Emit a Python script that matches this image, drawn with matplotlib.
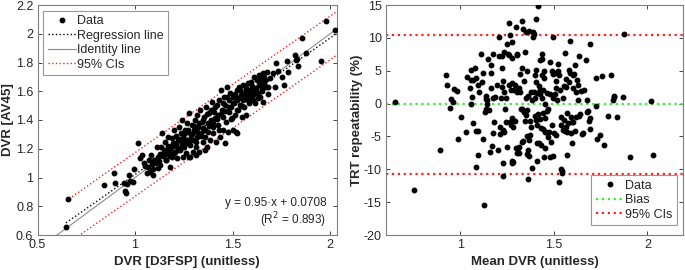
import matplotlib
matplotlib.use("Agg")
import matplotlib.pyplot as plt
from matplotlib.ticker import FuncFormatter, FixedLocator
import numpy as np

plt.rcParams['font.family'] = ['Liberation Sans', 'DejaVu Sans']

# ---------------- Left panel data: DVR D3FSP vs DVR AV45 ----------------
dvr_d3fsp = [0.646, 0.658, 0.841, 0.894, 0.897, 0.944, 0.949, 0.953, 0.957, 0.975, 0.970, 0.991, 0.996,
             1.015, 1.026, 1.038, 1.048, 1.060, 1.068, 1.077, 1.080, 1.085, 1.094, 1.099, 1.111, 1.116,
             1.124, 1.128, 1.133, 1.140, 1.145, 1.149, 1.154, 1.159, 1.162, 1.167, 1.171, 1.174, 1.179,
             1.183, 1.188, 1.191, 1.197, 1.200, 1.205, 1.209, 1.214, 1.217, 1.222, 1.226, 1.231, 1.234,
             1.239, 1.243, 1.245, 1.248, 1.253, 1.256, 1.260, 1.265, 1.268, 1.273, 1.277, 1.279, 1.282,
             1.286, 1.291, 1.295, 1.299, 1.303, 1.308, 1.312, 1.316, 1.320, 1.325, 1.329, 1.333, 1.337,
             1.342, 1.346, 1.350, 1.354, 1.359, 1.363, 1.368, 1.372, 1.376, 1.380, 1.385, 1.389, 1.393,
             1.397, 1.402, 1.406, 1.410, 1.415, 1.419, 1.423, 1.427, 1.432, 1.436, 1.440, 1.444, 1.449,
             1.453, 1.457, 1.462, 1.466, 1.470, 1.474, 1.479, 1.483, 1.487, 1.491, 1.496, 1.500, 1.504,
             1.508, 1.513, 1.517, 1.521, 1.525, 1.530, 1.534, 1.538, 1.542, 1.547, 1.551, 1.555, 1.560,
             1.564, 1.568, 1.573, 1.577, 1.581, 1.585, 1.590, 1.594, 1.598, 1.603, 1.607, 1.611, 1.615,
             1.620, 1.624, 1.629, 1.633, 1.637, 1.641, 1.645, 1.650, 1.655, 1.658, 1.662, 1.667, 1.675,
             1.680, 1.692, 1.706, 1.718, 1.723, 1.735, 1.752, 1.761, 1.781, 1.786, 1.821, 1.826, 1.832,
             1.834, 1.855, 1.877, 1.953, 1.979, 2.026,
             1.050, 1.070, 1.090, 1.100, 1.120, 1.130, 1.150, 1.160, 1.170, 1.180, 1.190, 1.200, 1.210,
             1.220, 1.230, 1.240, 1.250, 1.260, 1.270, 1.280, 1.290, 1.300, 1.310, 1.320, 1.330, 1.340,
             1.350, 1.360, 1.370, 1.380, 1.390, 1.400, 1.410, 1.420, 1.430, 1.440, 1.450, 1.460, 1.470,
             1.480, 1.490, 1.500, 1.510, 1.520, 1.530, 1.540, 1.550, 1.560, 1.570, 1.580, 1.590, 1.600,
             1.610, 1.620, 1.630, 1.640, 1.650, 1.660, 1.670, 1.680, 1.360, 1.310, 1.280, 1.460, 1.520]
dvr_av45 = [0.653, 0.848, 0.948, 1.029, 0.959, 0.964, 0.908, 0.894, 0.954, 0.978, 1.017, 0.966, 1.059,
            1.238, 1.133, 1.157, 1.100, 1.030, 1.076, 1.041, 1.157, 1.094, 1.017, 1.122, 1.215, 1.064,
            1.117, 1.161, 1.215, 1.312, 1.150, 1.191, 1.249, 1.122, 1.163, 1.219, 1.284, 1.180, 1.075,
            1.203, 1.272, 1.145, 1.238, 1.330, 1.180, 1.289, 1.215, 1.133, 1.261, 1.353, 1.191, 1.307,
            1.238, 1.400, 1.145, 1.272, 1.215, 1.330, 1.168, 1.377, 1.261, 1.318, 1.446, 1.145, 1.226,
            1.296, 1.365, 1.180, 1.261, 1.330, 1.400, 1.215, 1.435, 1.284, 1.353, 1.180, 1.469, 1.307,
            1.388, 1.249, 1.342, 1.423, 1.284, 1.492, 1.215, 1.377, 1.318, 1.446, 1.261, 1.400, 1.527,
            1.353, 1.307, 1.458, 1.411, 1.249, 1.504, 1.365, 1.435, 1.539, 1.284, 1.609, 1.469, 1.330,
            1.423, 1.562, 1.504, 1.388, 1.632, 1.318, 1.539, 1.458, 1.585, 1.493, 1.411, 1.562, 1.330,
            1.516, 1.435, 1.318, 1.609, 1.539, 1.469, 1.632, 1.504, 1.574, 1.423, 1.539, 1.644, 1.493,
            1.597, 1.435, 1.562, 1.655, 1.609, 1.516, 1.585, 1.667, 1.562, 1.620, 1.539, 1.701, 1.516,
            1.609, 1.678, 1.585, 1.713, 1.644, 1.562, 1.690, 1.620, 1.527, 1.725, 1.655, 1.678, 1.736,
            1.632, 1.690, 1.725, 1.632, 1.794, 1.742, 1.701, 1.644, 1.810, 1.736, 1.852, 1.817, 1.822,
            1.778, 1.968, 1.868, 1.810, 2.089, 2.026,
            1.080, 1.120, 1.060, 1.100, 1.140, 1.090, 1.170, 1.120, 1.200, 1.150, 1.220, 1.170, 1.240,
            1.190, 1.270, 1.210, 1.300, 1.240, 1.330, 1.260, 1.300, 1.360, 1.250, 1.320, 1.380, 1.290,
            1.400, 1.330, 1.440, 1.360, 1.470, 1.380, 1.490, 1.410, 1.330, 1.440, 1.520, 1.460, 1.560,
            1.490, 1.410, 1.520, 1.580, 1.470, 1.550, 1.610, 1.500, 1.580, 1.620, 1.540, 1.600, 1.640,
            1.580, 1.620, 1.550, 1.660, 1.600, 1.700, 1.630, 1.580, 1.190, 1.160, 1.140, 1.240, 1.310]

reg_slope = 0.95
reg_intercept = 0.0708
ci_halfwidth = 0.152
r_squared = 0.893

# ---------------- Right panel data: Bland-Altman TRT ----------------
mean_dvr = [0.652, 0.754, 0.893, 0.923, 0.930, 0.966, 0.982, 0.952, 0.964, 0.948, 0.986, 1.007, 1.030,
            1.036, 1.057, 1.059, 1.068, 1.080, 1.084, 1.055, 1.064, 1.057, 1.070, 1.086, 1.093, 1.082,
            1.093, 1.096, 1.098, 1.113, 1.114, 1.121, 1.121, 1.129, 1.130, 1.138, 1.138, 1.145, 1.138,
            1.143, 1.150, 1.155, 1.157, 1.163, 1.163, 1.164, 1.170, 1.173, 1.177, 1.177, 1.180, 1.188,
            1.196, 1.204, 1.209, 1.209, 1.211, 1.214, 1.216, 1.221, 1.221, 1.225, 1.227, 1.227, 1.229,
            1.230, 1.234, 1.232, 1.234, 1.241, 1.246, 1.246, 1.252, 1.252, 1.254, 1.259, 1.263, 1.263,
            1.264, 1.268, 1.271, 1.273, 1.275, 1.277, 1.279, 1.279, 1.277, 1.279, 1.280, 1.282, 1.288,
            1.291, 1.291, 1.296, 1.296, 1.302, 1.304, 1.305, 1.305, 1.309, 1.312, 1.312, 1.318, 1.314,
            1.321, 1.323, 1.329, 1.330, 1.332, 1.332, 1.336, 1.337, 1.341, 1.343, 1.346, 1.348, 1.352,
            1.354, 1.354, 1.355, 1.355, 1.357, 1.357, 1.361, 1.363, 1.366, 1.364, 1.368, 1.368, 1.371,
            1.375, 1.377, 1.380, 1.382, 1.386, 1.389, 1.389, 1.393, 1.395, 1.398, 1.402, 1.402, 1.404,
            1.405, 1.407, 1.407, 1.409, 1.411, 1.413, 1.413, 1.416, 1.418, 1.420, 1.421, 1.425, 1.425,
            1.427, 1.429, 1.430, 1.432, 1.436, 1.436, 1.436, 1.439, 1.441, 1.441, 1.443, 1.446, 1.448,
            1.450, 1.452, 1.454, 1.455, 1.455, 1.459, 1.463, 1.466, 1.468, 1.471, 1.475, 1.479, 1.480,
            1.482, 1.486, 1.488, 1.491, 1.495, 1.496, 1.496, 1.498, 1.502, 1.504, 1.507, 1.511, 1.511,
            1.514, 1.518, 1.521, 1.523, 1.527, 1.530, 1.534, 1.538, 1.538, 1.541, 1.543, 1.546, 1.550,
            1.550, 1.554, 1.555, 1.559, 1.561, 1.564, 1.564, 1.566, 1.568, 1.570, 1.573, 1.577, 1.580,
            1.582, 1.586, 1.588, 1.591, 1.593, 1.596, 1.598, 1.600, 1.602, 1.605, 1.609, 1.613, 1.614,
            1.616, 1.621, 1.625, 1.627, 1.630, 1.632, 1.636, 1.641, 1.646, 1.652, 1.657, 1.664, 1.671,
            1.679, 1.680, 1.682, 1.689, 1.693, 1.695, 1.696, 1.723, 1.727, 1.729, 1.746, 1.755, 1.766,
            1.791, 1.804, 1.816, 1.821, 1.823, 1.836, 1.870, 1.877, 1.907, 2.021, 2.030]
trt_pct = [0.2, -13.1, -7.0, 4.4, 2.9, 2.2, 1.9, 0.7, 0.3, -0.6, -5.4, -2.1, -4.4,
           4.1, 5.1, 3.6, 3.6, 5.4, 3.9, 2.3, 1.0, -0.1, -3.0, -4.1, -4.2, -9.7,
           -7.8, 2.8, 1.8, 7.5, 3.3, 4.7, -5.4, -15.5, -1.3, 0.7, 1.2, 0.5, -0.8,
           -0.1, 6.8, -1.0, -7.3, 5.8, 2.4, 4.7, -6.4, -4.5, 7.6, 0.8, -2.8, 1.0,
           2.8, -7.1, 7.3, 10.1, -4.7, -3.5, 0.8, 7.3, 5.4, 2.5, 3.4, -11.0, -9.0,
           -4.0, -4.3, 1.7, 7.8, -0.8, 0.9, -2.8, 9.0, -6.6, 7.5, 7.4, 12.3, 2.9,
           -2.8, 10.5, -3.3, 2.1, 6.9, -8.7, 9.3, 3.1, -2.2, -9.0, -3.6, -8.9, 2.1,
           -2.7, 2.8, -6.8, 11.6, 7.4, -7.5, 7.5, 1.8, -6.8, -6.6, -7.5, 4.5, 2.4,
           1.8, -0.9, 12.6, -5.9, 5.4, -0.9, 11.3, -5.7, -1.3, 3.5, 7.8, -2.7, 10.9,
           0.9, -1.8, -1.0, -7.7, -4.9, 4.9, -11.5, 1.2, -8.0, -7.0, 11.1, -5.6, -4.8,
           -2.7, 1.7, -3.6, 0.5, -9.8, 10.1, 10.9, 10.6, 1.7, -1.9, 4.4, 0.9, 3.3,
           5.1, -2.5, 12.8, -6.0, -8.8, 1.6, -3.2, 14.8, -1.6, -6.0, 2.6, 2.0, -2.3,
           1.5, 6.7, -3.7, -6.3, 0.9, 4.4, 6.8, 7.5, -3.9, 2.0, -1.5, 4.9, 3.9,
           -8.1, -6.7, -2.2, -0.1, -4.3, -4.3, -1.2, 1.6, -5.1, -0.9, -4.3, -8.1, 6.3,
           1.4, -5.8, -3.2, 5.0, 0.8, 10.2, 4.5, -8.0, -4.5, 4.7, 1.4, 3.4, -4.8,
           2.4, 0.6, 4.9, 6.0, -11.9, 4.3, 2.0, -3.3, -10.0, -2.0, -10.3, -10.5, 0.9,
           -4.0, -2.5, 2.6, 7.7, -4.1, 2.5, -3.6, 3.8, -1.5, -4.3, -7.8, -3.0, 5.1,
           3.3, 9.5, 4.7, -2.0, -4.5, -6.0, -2.8, 4.4, 2.4, -2.8, 4.5, -4.1, 5.9,
           1.7, -2.1, 3.6, 2.9, 0.5, 7.2, -1.9, -1.6, 1.9, -4.6, -4.5, 2.1, 6.6,
           0.6, -1.3, -1.1, -2.6, -2.2, -3.8, 9.1, 3.9, -0.3, -5.4, -4.8, 4.2, -6.3,
           -1.9, 4.3, 0.6, 1.2, 1.0, -2.1, 1.0, 10.6, -8.2, 0.4, -7.8]

bias = -0.1
loa_upper = 10.45
loa_lower = -10.65

# ---------------- Styling ----------------
TXT = '#262626'
EDGE = '#7f7f7f'
W, H = 685, 270
fig = plt.figure(figsize=(W / 100, H / 100), dpi=100)

def fmt(v, pos):
    return ('%g' % round(v, 3))

def style(ax):
    for s in ax.spines.values():
        s.set_color(EDGE)
        s.set_linewidth(0.8)
    ax.tick_params(direction='in', length=3, width=0.6, color=TXT, labelcolor=TXT,
                   labelsize=9, top=True, right=True, pad=3)
    ax.xaxis.set_major_formatter(FuncFormatter(fmt))
    ax.yaxis.set_major_formatter(FuncFormatter(fmt))

leg_kw = dict(fontsize=9, frameon=True, fancybox=False, edgecolor=EDGE, handlelength=2.25,
              handletextpad=0.12, borderpad=0.35, labelspacing=0.2, borderaxespad=0.0,
              numpoints=1)
LAB = dict(fontsize=9.5, fontweight='bold', color=TXT)

# Left axes
ax1 = fig.add_axes([37.5 / W, (H - 235) / H, 299.5 / W, 230 / H])
style(ax1)
xd = np.array(dvr_d3fsp)
yd = np.array(dvr_av45)
xl = np.array([min(dvr_d3fsp), max(dvr_d3fsp)])
ax1.plot(xd, yd, 'o', color='k', ms=3.2, mec='k', label='Data', zorder=3)
ax1.plot(xl, reg_slope * xl + reg_intercept, ':', color='k', lw=1.0, label='Regression line', zorder=2)
xi = np.array([0.5, 2.05])
ax1.plot(xi, xi, '-', color='#8c8c8c', lw=0.8, label='Identity line', zorder=1)
xc = np.array([min(dvr_d3fsp), 2.05])
ax1.plot(xc, reg_slope * xc + reg_intercept + ci_halfwidth, ':', color='#ff2020', lw=1.0,
         label='95% CIs', zorder=2)
ax1.plot(xc, reg_slope * xc + reg_intercept - ci_halfwidth, ':', color='#ff2020', lw=1.0, zorder=2)
ax1.set_xlim(0.5, 2.035)
ax1.set_ylim(0.6, 2.2)
ax1.xaxis.set_major_locator(FixedLocator([0.5, 1, 1.5, 2]))
ax1.yaxis.set_major_locator(FixedLocator(np.round(np.arange(0.6, 2.21, 0.2), 1)))
ax1.set_xlabel('DVR [D3FSP] (unitless)', **LAB)
ax1.set_ylabel('DVR [AV45]', **LAB)
ax1.xaxis.set_label_coords(0.5, -0.09)
ax1.yaxis.set_label_coords(-0.08, 0.5)
ax1.text(0.965, 0.14, 'y = %.2f·x + %.4f' % (reg_slope, reg_intercept), transform=ax1.transAxes,
         ha='right', va='center', fontsize=8.5, color=TXT)
ax1.text(0.962, 0.066, '(R$^2$ = %.3f)' % r_squared, transform=ax1.transAxes,
         ha='right', va='center', fontsize=8.5, color=TXT)
leg1 = ax1.legend(loc='upper left', bbox_to_anchor=(0.019, 0.974), **leg_kw)
leg1.get_frame().set_linewidth(0.8)
for t in leg1.get_texts():
    t.set_color(TXT)

# Right axes
ax2 = fig.add_axes([386 / W, (H - 235) / H, 297 / W, 230 / H])
style(ax2)
ax2.plot(mean_dvr, trt_pct, 'o', color='k', ms=3.2, mec='k', label='Data', zorder=3)
ax2.axhline(bias, ls=':', color='#33ee33', lw=1.6, label='Bias', zorder=2)
ax2.axhline(loa_upper, ls=':', color='#ff2020', lw=1.6, label='95% CIs', zorder=2)
ax2.axhline(loa_lower, ls=':', color='#ff2020', lw=1.6, zorder=2)
ax2.set_xlim(0.604, 2.19)
ax2.set_ylim(-20, 15)
ax2.xaxis.set_major_locator(FixedLocator([1, 1.5, 2]))
ax2.yaxis.set_major_locator(FixedLocator(np.arange(-20, 16, 5)))
ax2.set_xlabel('Mean DVR (unitless)', **LAB)
ax2.set_ylabel('TRT repeatability (%)', **LAB)
ax2.xaxis.set_label_coords(0.5, -0.09)
ax2.yaxis.set_label_coords(-0.079, 0.5)
leg2 = ax2.legend(loc='lower right', bbox_to_anchor=(0.98, 0.043), **leg_kw)
leg2.get_frame().set_linewidth(0.8)
for t in leg2.get_texts():
    t.set_color(TXT)

fig.savefig('out.png', dpi=100)
